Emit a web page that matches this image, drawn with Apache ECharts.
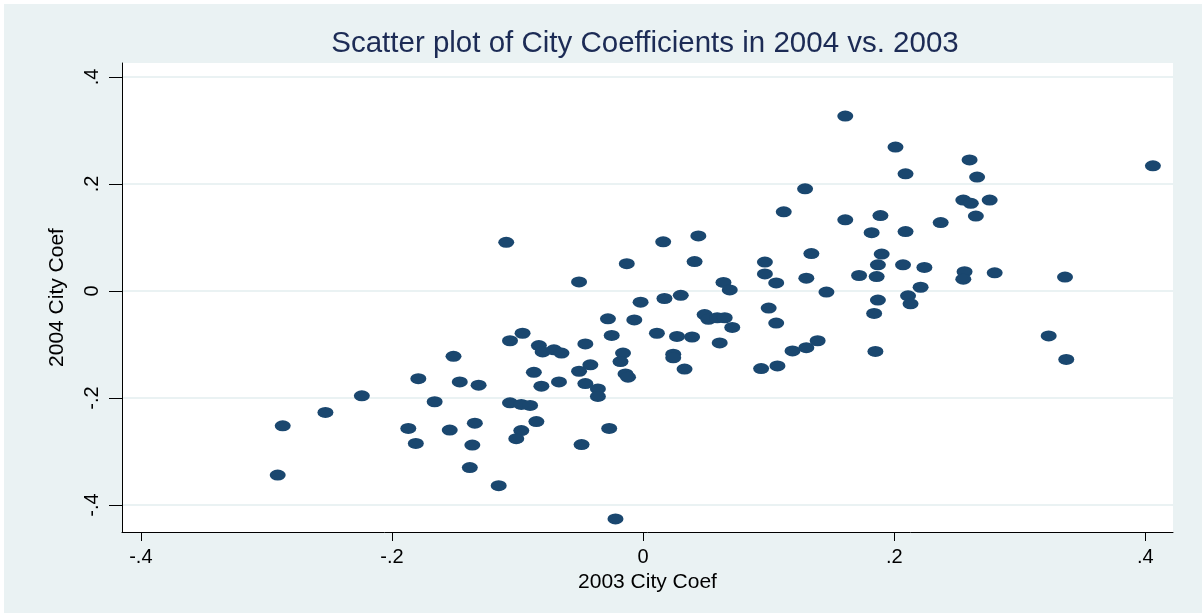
<!DOCTYPE html>
<html><head><meta charset="utf-8">
<script src="https://cdn.jsdelivr.net/npm/echarts@6/dist/echarts.min.js"></script>
<style>html,body{margin:0;padding:0;background:#fff;} #c{position:absolute;left:4px;top:4px;width:1198px;height:609px;}</style>
</head><body><div id="c"></div>
<script>
const titleText = 'Scatter plot of City Coefficients in 2004 vs. 2003';
const xName = '2003 City Coef';
const yName = '2004 City Coef';
const tickValues = [-0.4, -0.2, 0, 0.2, 0.4];
const tickLabels = ['-.4', '-.2', '0', '.2', '.4'];
const coef2003 = [-0.291,-0.287,-0.253,-0.224,-0.187,-0.181,-0.179,-0.166,-0.154,-0.151,-0.146,-0.134,-0.136,-0.131,-0.138,-0.115,-0.109,-0.106,-0.096,-0.083,-0.080,-0.071,-0.065,-0.046,-0.087,-0.081,-0.067,-0.051,-0.042,-0.046,-0.036,-0.036,-0.106,-0.097,-0.090,-0.085,-0.097,-0.101,-0.049,-0.027,-0.022,-0.051,-0.013,0.016,0.044,0.041,-0.002,0.017,0.030,-0.028,-0.007,-0.025,0.011,0.027,0.039,-0.016,-0.018,-0.014,-0.012,0.024,0.024,0.033,0.049,0.052,0.059,0.065,0.071,0.061,0.064,0.069,0.097,0.097,0.106,0.100,0.106,0.094,0.107,0.119,0.130,0.139,0.146,0.134,0.130,0.112,0.129,0.161,0.161,0.172,0.189,0.182,0.190,0.187,0.186,0.187,0.184,0.185,0.201,0.209,0.209,0.207,0.211,0.213,0.221,0.224,0.237,0.260,0.266,0.255,0.261,0.276,0.265,0.256,0.255,0.280,0.323,0.336,0.337,0.406];
const coef2004 = [-0.344,-0.252,-0.227,-0.196,-0.257,-0.285,-0.164,-0.207,-0.260,-0.122,-0.170,-0.247,-0.288,-0.176,-0.330,-0.364,0.091,-0.093,-0.079,-0.102,-0.114,-0.110,-0.116,-0.099,-0.152,-0.178,-0.170,-0.150,-0.138,-0.173,-0.183,-0.197,-0.209,-0.212,-0.214,-0.244,-0.261,-0.276,-0.287,-0.257,-0.426,0.017,0.051,0.092,0.103,0.055,-0.021,-0.014,-0.008,-0.052,-0.054,-0.083,-0.079,-0.085,-0.086,-0.116,-0.132,-0.155,-0.161,-0.118,-0.125,-0.146,-0.044,-0.053,-0.050,-0.050,-0.068,-0.097,0.016,0.002,0.054,0.032,0.015,-0.032,-0.060,-0.145,-0.140,-0.112,-0.106,-0.093,-0.002,0.070,0.024,0.148,0.191,0.327,0.133,0.029,0.141,0.109,0.069,0.049,0.027,-0.017,-0.042,-0.113,0.269,0.219,0.111,0.049,-0.009,-0.024,0.007,0.044,0.128,0.245,0.213,0.170,0.164,0.170,0.140,0.036,0.022,0.034,-0.084,0.026,-0.128,0.234];

const fmt = v => { const i = tickValues.findIndex(t => Math.abs(t - v) < 1e-9); return i >= 0 ? tickLabels[i] : ''; };
const FONT = 'Liberation Sans, Arial, Helvetica, sans-serif';
const chart = echarts.init(document.getElementById('c'));
chart.setOption({
  animation: false,
  backgroundColor: '#eaf2f3',
  textStyle: { fontFamily: FONT },
  title: {
    text: titleText, left: 641, top: 25, padding: 0, textAlign: 'center',
    textStyle: { fontSize: 29.5, fontWeight: 'normal', color: '#1c2b55', fontFamily: FONT }
  },
  grid: { left: 118, right: 29, top: 59, bottom: 81, show: true, backgroundColor: '#ffffff', borderWidth: 0, containLabel: false },
  xAxis: {
    type: 'value', min: -0.415, max: 0.422,
    name: xName, nameLocation: 'middle', nameGap: 37,
    nameTextStyle: { fontSize: 21, color: '#000', fontFamily: FONT },
    axisLine: { show: true, onZero: false, lineStyle: { color: '#000', width: 1 } },
    axisTick: { show: true, length: 9, customValues: tickValues, lineStyle: { color: '#000', width: 1 } },
    axisLabel: { customValues: tickValues, formatter: fmt, fontSize: 20, color: '#000', margin: 15, fontFamily: FONT },
    splitLine: { show: false }
  },
  yAxis: {
    type: 'value', min: -0.4505, max: 0.4262,
    name: yName, nameLocation: 'middle', nameGap: 54, nameRotate: 90,
    nameTextStyle: { fontSize: 21, color: '#000', fontFamily: FONT },
    axisLine: { show: true, onZero: false, lineStyle: { color: '#000', width: 1 } },
    axisTick: { show: true, length: 13, customValues: tickValues, lineStyle: { color: '#000', width: 1 } },
    axisLabel: { customValues: tickValues, formatter: fmt, fontSize: 20, color: '#000', margin: 20, rotate: 90, fontFamily: FONT },
    splitLine: { show: true, lineStyle: { color: '#eaf2f3', width: 2 } }
  },
  series: [{
    type: 'scatter',
    symbol: 'circle',
    symbolSize: [16, 11],
    itemStyle: { color: '#1a476f', opacity: 1 },
    data: coef2003.map((x, i) => [x, coef2004[i]])
  }]
});
</script>
</body></html>
